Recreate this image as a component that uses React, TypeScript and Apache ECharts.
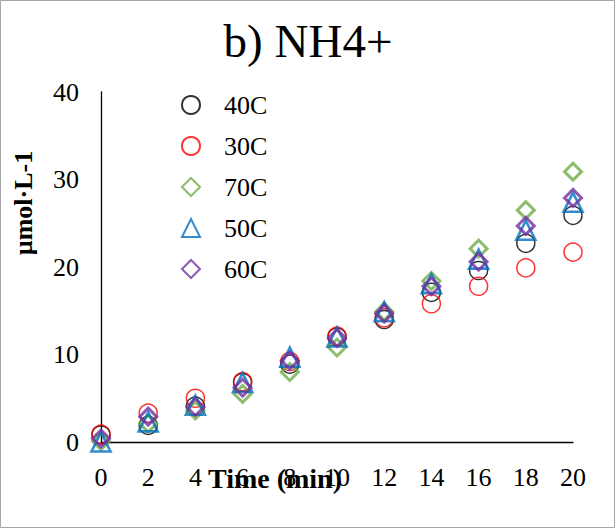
import React, { useEffect, useRef } from "react";
import * as echarts from "echarts";

const times = [0, 2, 4, 6, 8, 10, 12, 14, 16, 18, 20];
const s40 = [0.8, 1.9, 4.1, 6.8, 8.9, 12.0, 14.0, 17.1, 19.6, 22.7, 25.9];
const s30 = [0.9, 3.3, 5.0, 6.9, 9.2, 12.1, 14.2, 15.8, 17.8, 19.9, 21.7];
const s70 = [0.1, 2.1, 3.6, 5.5, 8.0, 10.8, 14.9, 18.4, 22.1, 26.5, 30.9];
const s50 = [0.0, 2.3, 4.2, 6.8, 9.7, 12.0, 14.9, 18.1, 20.9, 24.2, 27.4];
const s60 = [0.4, 2.9, 4.0, 6.2, 9.3, 11.9, 14.7, 17.8, 20.6, 24.7, 27.9];

const seriesNames = ["40C", "30C", "70C", "50C", "60C"];
const seriesValues = [s40, s30, s70, s50, s60];
const seriesColors = ["#000000", "#FF0000", "#70AD47", "#0070C0", "#7030A0"];
const seriesSymbols = ["circle", "circle", "diamond", "triangle", "diamond"];
const symbolSizes = [18, 18, 17, 19, 17];
const borderWidths = [1.5, 1.5, 3, 2.6, 3];

const xTicks = { min: 0, max: 20, interval: 2 };
const yTicks = { min: 0, max: 40, interval: 10 };

const TITLE = "b) NH4+";
const X_TITLE = "Time (min)";
const Y_TITLE = "\u00B5mol\u00B7L-1";

const SERIF = "'Liberation Serif', 'Times New Roman', Times, serif";

export default function App() {
  const ref = useRef<HTMLDivElement>(null);

  useEffect(() => {
    document.body.style.margin = "0";
    if (!ref.current) return;
    const chart = echarts.init(ref.current, null, { renderer: "svg" });

    const series = seriesNames.map((name, i) => ({
      name,
      type: "scatter",
      symbol: seriesSymbols[i],
      symbolSize: symbolSizes[i],
      data: times.map((t, j) => [t, seriesValues[i][j]]),
      itemStyle: {
        color: "rgba(255,255,255,0)",
        borderColor: seriesColors[i],
        borderWidth: borderWidths[i],
      },
      emphasis: { disabled: true },
    }));

    const option: any = {
      animation: false,
      backgroundColor: "#ffffff",
      title: {
        text: TITLE,
        left: "center",
        top: 12,
        textStyle: {
          fontFamily: SERIF,
          fontSize: 47,
          fontWeight: "normal",
          color: "#000",
        },
      },
      grid: { left: 101, right: 43, top: 92, bottom: 87 },
      xAxis: {
        type: "value",
        min: xTicks.min,
        max: xTicks.max,
        interval: xTicks.interval,
        axisLine: { show: true, onZero: false, lineStyle: { color: "#000", width: 1.3 } },
        axisTick: { show: false },
        splitLine: { show: false },
        axisLabel: { fontFamily: SERIF, fontSize: 26, color: "#000", margin: 22 },
      },
      yAxis: {
        type: "value",
        min: yTicks.min,
        max: yTicks.max,
        interval: yTicks.interval,
        axisLine: { show: true, onZero: false, lineStyle: { color: "#000", width: 1.3 } },
        axisTick: { show: false },
        splitLine: { show: false },
        axisLabel: {
          fontFamily: SERIF,
          fontSize: 26,
          color: "#000",
          margin: 22,
          padding: [12, 0, 0, 0],
        },
      },
      legend: {
        orient: "vertical",
        left: 176,
        top: 87,
        itemWidth: 18,
        itemHeight: 18,
        itemGap: 15,
        data: seriesNames,
        textStyle: {
          fontFamily: SERIF,
          fontSize: 26,
          lineHeight: 26,
          color: "#000",
          padding: [0, 0, 0, 19],
        },
      },
      graphic: [
        {
          type: "rect",
          shape: { x: 0.5, y: 0.5, width: 614, height: 527 },
          style: { fill: "none", stroke: "#a6a6a6", lineWidth: 1 },
          silent: true,
        },
        {
          type: "text",
          x: 275,
          y: 478,
          style: {
            text: X_TITLE,
            fontFamily: SERIF,
            fontSize: 28,
            fontWeight: "bold",
            fill: "#000",
            align: "center",
            verticalAlign: "middle",
          },
        },
        {
          type: "text",
          x: 23,
          y: 203,
          rotation: Math.PI / 2,
          style: {
            text: Y_TITLE,
            fontFamily: SERIF,
            fontSize: 26,
            fontWeight: "bold",
            fill: "#000",
            align: "center",
            verticalAlign: "middle",
          },
        },
      ],
      series,
    };

    chart.setOption(option);
    return () => chart.dispose();
  }, []);

  return <div ref={ref} style={{ width: 616, height: 529 }} />;
}
